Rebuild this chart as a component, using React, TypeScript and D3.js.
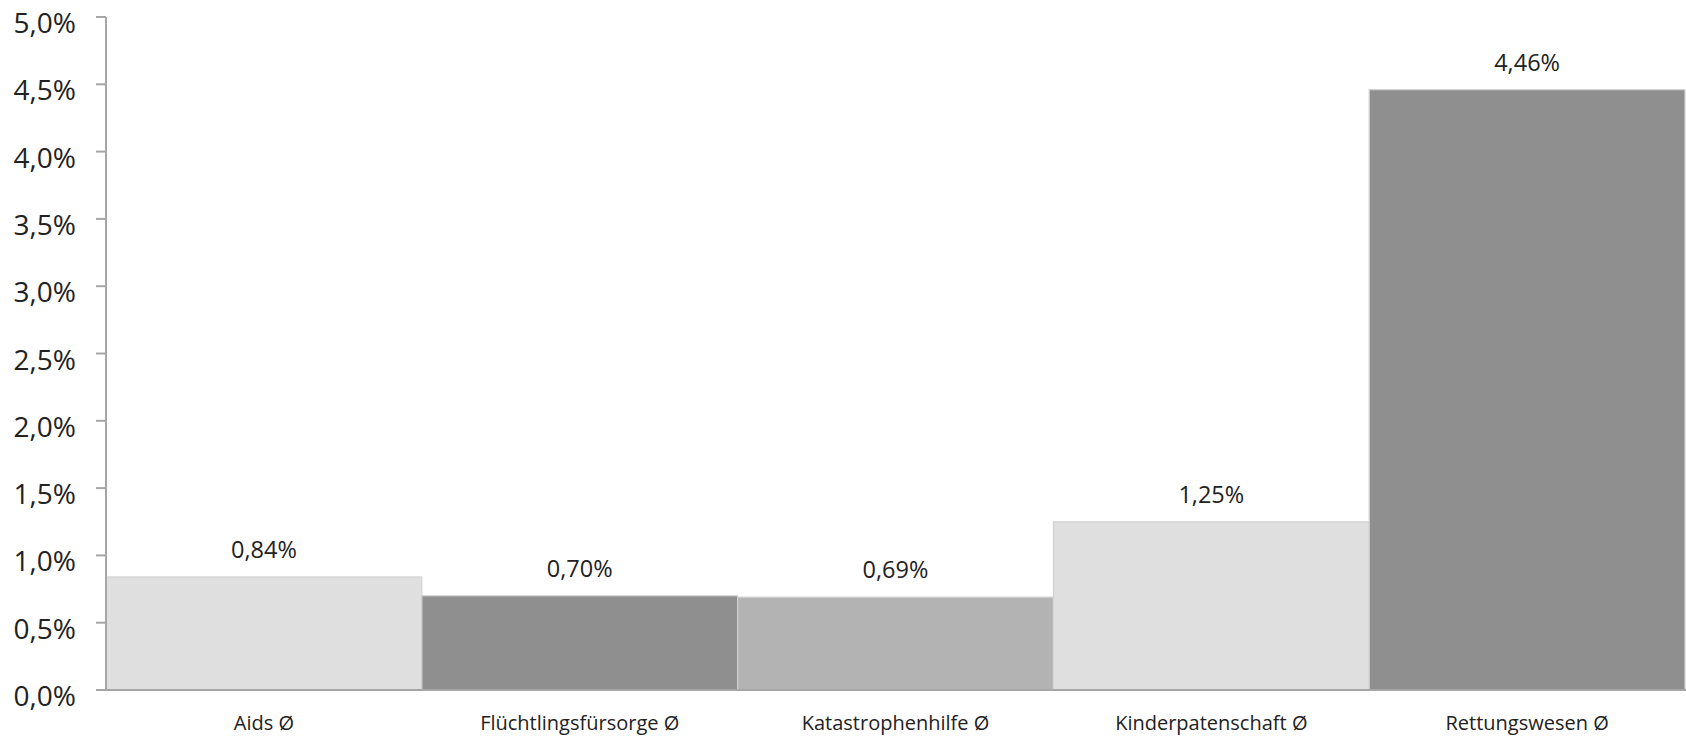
import React from "react";
import * as d3 from "d3";

const categories = ["Aids Ø", "Flüchtlingsfürsorge Ø", "Katastrophenhilfe Ø", "Kinderpatenschaft Ø", "Rettungswesen Ø"];
const values = [0.84, 0.70, 0.69, 1.25, 4.46];
const barColors = ["#dfdfdf", "#8f8f8f", "#b3b3b3", "#dfdfdf", "#8f8f8f"];
const yTicks = [0, 0.5, 1, 1.5, 2, 2.5, 3, 3.5, 4, 4.5, 5];

const W = 1686;
const H = 736;
const fmtTick = (v: number) => v.toFixed(1).replace(".", ",") + "%";
const fmtVal = (v: number) => v.toFixed(2).replace(".", ",") + "%";

export default function App() {
  const x = d3.scaleBand<string>().domain(categories).range([106, 1685]).padding(0);
  const y = d3.scaleLinear().domain([0, 5]).range([690, 17]);
  const font = "'Open Sans', sans-serif";
  return (
    <svg width={W} height={H} style={{ position: "absolute", left: 0, top: 0, background: "#fff" }} fontFamily={font}>
      {categories.map((c, i) => (
        <rect key={c} x={x(c)!} y={y(values[i])} width={x.bandwidth()} height={y(0) - y(values[i])}
          fill={barColors[i]} stroke="#d2d2d2" strokeWidth={1.2} />
      ))}
      <line x1={106} x2={106} y1={y(5)} y2={y(0)} stroke="#a6a6a6" strokeWidth={2} />
      <line x1={96} x2={W} y1={y(0)} y2={y(0)} stroke="#a6a6a6" strokeWidth={2} />
      {yTicks.map((t) => (
        <g key={t}>
          <line x1={96} x2={106} y1={y(t)} y2={y(t)} stroke="#a6a6a6" strokeWidth={2} />
          <text x={76} y={y(t) + 5} textAnchor="end" dominantBaseline="central" fontSize={28} fill="#222">
            {fmtTick(t)}
          </text>
        </g>
      ))}
      {categories.map((c, i) => (
        <text key={"v" + c} x={x(c)! + x.bandwidth() / 2} y={y(values[i]) - 19} textAnchor="middle" fontSize={23.5} fill="#222">
          {fmtVal(values[i])}
        </text>
      ))}
      {categories.map((c) => (
        <text key={"c" + c} x={x(c)! + x.bandwidth() / 2} y={730} textAnchor="middle" fontSize={20} fill="#222">
          {c}
        </text>
      ))}
    </svg>
  );
}
